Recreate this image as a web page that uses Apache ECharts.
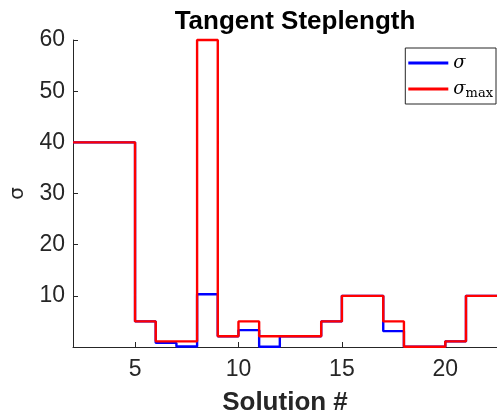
<!DOCTYPE html>
<html>
<head>
<meta charset="utf-8">
<script src="https://cdn.jsdelivr.net/npm/echarts@6/dist/echarts.min.js"></script>
<style>html,body{margin:0;padding:0;background:#fff}#c{width:497px;height:419px}</style>
</head>
<body>
<div id="c"></div>
<script>
const solutions = [2,3,4,5,6,7,8,9,10,11,12,13,14,15,16,17,18,19,20,21,22,23];
const sigma     = [40,40,40,5,0.8,0.1,10.3,2.1,3.3,0.05,2.1,2.1,5,10,10,3.1,0.05,0.05,1.1,10,10,10];
const sigmaMax  = [40,40,40,5,1.1,1.1,60,2.1,5,2.1,2.1,2.1,5,10,10,5,0.05,0.05,1.1,10,10,10];
const xTicks = [5,10,15,20];
const yTicks = [10,20,30,40,50,60];

const pairs = (ys) => solutions.map((x,i)=>[x, ys[i]]);
const axisColor = '#262626';
const sans = 'Liberation Sans, Arial, sans-serif';
const chart = echarts.init(document.getElementById('c'));
chart.setOption({
  animation:false,
  backgroundColor:'#fff',
  title:{text:'Tangent Steplength', left:290, top:4, textAlign:'center',
    textStyle:{fontFamily:sans, fontSize:26, fontWeight:'bold', color:'#000'}},
  grid:{left:73, right:0, top:40, bottom:72, containLabel:false, outerBoundsMode:'none'},
  legend:{
    right:1, top:48, orient:'vertical', itemWidth:40, itemHeight:3, itemGap:8,
    backgroundColor:'#fff', borderColor:axisColor, borderWidth:1, borderRadius:0,
    padding:[6,3,4,3],
    icon:'rect',
    data:['sigma','sigmaMax'],
    formatter:(n)=> n==='sigma' ? '{s|σ}' : '{s|σ}{m|max}',
    textStyle:{rich:{
      s:{fontFamily:'DejaVu Serif, serif', fontStyle:'italic', fontSize:18, color:'#000'},
      m:{fontFamily:'DejaVu Serif, serif', fontSize:13, color:'#000', verticalAlign:'bottom', padding:[9,0,0,0]}
    }}
  },
  xAxis:{
    type:'value', min:2, max:22.5,
    name:'Solution #', nameLocation:'middle', nameGap:43,
    nameTextStyle:{fontFamily:sans, fontSize:26, fontWeight:'bold', color:'#262626'},
    axisLine:{show:true, lineStyle:{color:axisColor, width:1}},
    axisTick:{show:true, inside:true, length:5, customValues:xTicks, lineStyle:{color:axisColor}},
    axisLabel:{customValues:xTicks, margin:11, fontFamily:sans, fontSize:23, color:'#262626'},
    splitLine:{show:false}
  },
  yAxis:{
    type:'value', min:0, max:60,
    name:'σ', nameLocation:'middle', nameGap:45, nameRotate:90,
    nameTextStyle:{fontFamily:'DejaVu Sans, sans-serif', fontSize:20, color:'#262626'},
    axisLine:{show:true, lineStyle:{color:axisColor, width:1}},
    axisTick:{show:true, inside:true, length:5, customValues:yTicks, lineStyle:{color:axisColor}},
    axisLabel:{customValues:yTicks, margin:8, fontFamily:sans, fontSize:23, color:'#262626'},
    splitLine:{show:false}
  },
  series:[
    {name:'sigma', type:'line', step:'end', data:pairs(sigma), showSymbol:false, symbol:'none', clip:false,
     lineStyle:{color:'#0000ff', width:2.4}, itemStyle:{color:'#0000ff'}},
    {name:'sigmaMax', type:'line', step:'end', data:pairs(sigmaMax), showSymbol:false, symbol:'none', clip:false,
     lineStyle:{color:'#ff0000', width:2.4}, itemStyle:{color:'#ff0000'}}
  ]
});
</script>
</body>
</html>
